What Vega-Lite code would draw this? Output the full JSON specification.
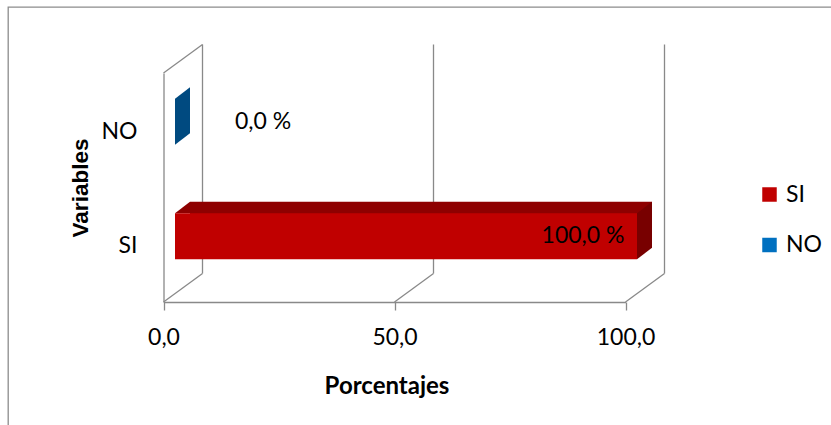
{
  "$schema": "https://vega.github.io/schema/vega-lite/v6.json",
  "width": 823,
  "height": 418,
  "autosize": "none",
  "padding": {"left": 8, "top": 7, "right": 0, "bottom": 0},
  "background": "white",
  "datasets": {
    "encuesta": [
      {"Variable": "SI", "Porcentaje": 100},
      {"Variable": "NO", "Porcentaje": 0}
    ],
    "divisiones": [
      {"valor": 0},
      {"valor": 50},
      {"valor": 100}
    ]
  },
  "config": {
    "view": {"stroke": "#8c8c8c", "strokeWidth": 1.3, "strokeDash": [823, 1241, 418]},
    "font": "Lato"
  },
  "resolve": {"scale": {"y": "independent"}},
  "layer": [
    {
      "data": {"name": "divisiones"},
      "encoding": {
        "x": {"field": "valor", "type": "quantitative", "scale": {"domain": [0, 100], "range": [155.5, 617.5], "nice": false}}
      },
      "layer": [
        {
          "mark": {"type": "rule", "color": "#898989", "strokeWidth": 1.3, "xOffset": 39, "yOffset": -28.5, "y2Offset": -28.5},
          "encoding": {
            "y": {"datum": 0, "type": "quantitative", "scale": {"domain": [0, 1], "range": [295, 66]}, "axis": null},
            "y2": {"datum": 1}
          }
        },
        {
          "mark": {"type": "rule", "color": "#898989", "strokeWidth": 1.3, "x2Offset": 39, "y2Offset": -28.5},
          "encoding": {
            "x2": {"field": "valor"},
            "y": {"datum": 0, "type": "quantitative", "scale": {"domain": [0, 1], "range": [295, 66]}, "axis": null},
            "y2": {"datum": 0}
          }
        },
        {
          "transform": [{"filter": "datum.valor === 0"}],
          "mark": {"type": "rule", "color": "#898989", "strokeWidth": 1.3, "x2Offset": 39, "y2Offset": -28.5},
          "encoding": {
            "x2": {"field": "valor"},
            "y": {"datum": 1, "type": "quantitative", "scale": {"domain": [0, 1], "range": [295, 66]}, "axis": null},
            "y2": {"datum": 1}
          }
        }
      ]
    },
    {
      "data": {"name": "encuesta"},
      "encoding": {
        "x": {
          "field": "Porcentaje",
          "type": "quantitative",
          "scale": {"domain": [0, 100], "range": [155.5, 617.5], "nice": false},
          "axis": {
            "orient": "bottom",
            "offset": -123,
            "values": [0, 50, 100],
            "grid": false,
            "domainColor": "#898989",
            "domainWidth": 1.3,
            "tickColor": "#898989",
            "tickWidth": 1.3,
            "tickSize": 8,
            "labelExpr": "replace(format(datum.value, '.1f'), '.', ',')",
            "labelFont": "Lato",
            "labelFontSize": 23,
            "labelColor": "black",
            "labelPadding": 16,
            "labelFlush": false,
            "labelOverlap": false,
            "title": "Porcentajes",
            "titleFont": "Lato",
            "titleFontSize": 24,
            "titleFontWeight": "bold",
            "titleColor": "black",
            "titleX": 378.5,
            "titleY": 91,
            "titleBaseline": "alphabetic",
            "titleAlign": "center"
          }
        },
        "y": {
          "field": "Variable",
          "type": "nominal",
          "sort": ["NO", "SI"],
          "scale": {"range": [66, 295], "paddingInner": 0, "paddingOuter": 0},
          "axis": {
            "orient": "left",
            "offset": -155.5,
            "grid": false,
            "ticks": false,
            "domainColor": "#898989",
            "domainWidth": 1.3,
            "labelFont": "Lato",
            "labelFontSize": 23,
            "labelColor": "black",
            "labelPadding": 26.5,
            "labelOffset": 1.5,
            "title": "Variables",
            "titleFont": "Liberation Sans",
            "titleFontSize": 22.5,
            "titleFontWeight": "bold",
            "titleColor": "black",
            "titleAngle": -90,
            "titleX": -76.5,
            "titleY": 180.5,
            "titleBaseline": "alphabetic",
            "titleAlign": "center"
          }
        }
      },
      "layer": [
        {
          "transform": [{"filter": "datum.Porcentaje > 0"}],
          "mark": {"type": "bar", "color": "#8e0000", "height": {"band": 0.4}, "xOffset": 26.5, "x2Offset": 26.5, "yOffset": -20},
          "encoding": {"x2": {"datum": 0}}
        },
        {
          "transform": [{"filter": "datum.Porcentaje > 0"}],
          "mark": {"type": "point", "filled": true, "opacity": 1, "strokeWidth": 0, "size": 4, "color": "#8e0000", "shape": "M11.5,-31.5L26.5,-43L26.5,-31.5Z"},
          "encoding": {"x": {"datum": 0, "type": "quantitative"}}
        },
        {
          "mark": {"type": "point", "filled": true, "opacity": 1, "strokeWidth": 0, "size": 4, "shape": "M11.5,-31.5L26.5,-43L26.5,3L11.5,14.5Z"},
          "encoding": {
            "fill": {"condition": {"test": "datum.Variable === 'SI'", "value": "#780000"}, "value": "#004a80"}
          }
        },
        {
          "mark": {"type": "bar", "height": {"band": 0.4}, "xOffset": 11.5, "x2Offset": 11.5, "yOffset": -8.5},
          "encoding": {
            "x2": {"datum": 0},
            "color": {
              "field": "Variable",
              "type": "nominal",
              "scale": {"domain": ["SI", "NO"], "range": ["#c00000", "#0070c0"]},
              "legend": {
                "title": null,
                "orient": "none",
                "legendX": 750,
                "legendY": 176,
                "padding": 0,
                "symbolType": "square",
                "symbolSize": 210,
                "symbolStrokeWidth": 0,
                "labelFont": "Lato",
                "labelFontSize": 23,
                "labelColor": "black",
                "labelOffset": 5,
                "rowPadding": 26.5
              }
            }
          }
        },
        {
          "transform": [
            {"filter": "datum.Variable === 'SI'"},
            {"calculate": "replace(format(datum.Porcentaje, '.1f'), '.', ',') + ' %'", "as": "etiqueta"}
          ],
          "mark": {"type": "text", "align": "right", "baseline": "middle", "dx": -1, "dy": -8.5, "font": "Lato", "fontSize": 23, "color": "black"},
          "encoding": {"text": {"field": "etiqueta"}}
        },
        {
          "transform": [
            {"filter": "datum.Variable === 'NO'"},
            {"calculate": "replace(format(datum.Porcentaje, '.1f'), '.', ',') + ' %'", "as": "etiqueta"}
          ],
          "mark": {"type": "text", "align": "left", "baseline": "middle", "dx": 71.5, "dy": -8.5, "font": "Lato", "fontSize": 23, "color": "black"},
          "encoding": {"text": {"field": "etiqueta"}}
        }
      ]
    }
  ]
}
